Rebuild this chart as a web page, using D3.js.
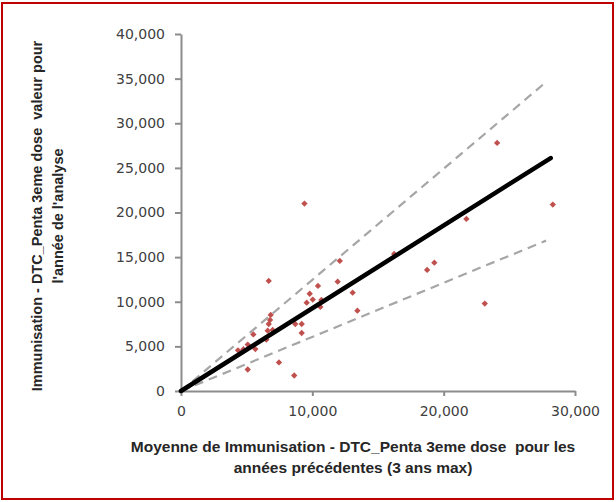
<!DOCTYPE html>
<html>
<head>
<meta charset="utf-8">
<script src="https://cdn.jsdelivr.net/npm/d3@7"></script>
<style>
  body { margin: 0; background: #fff; }
  svg { display: block; }
  .tick text { font-family: "DejaVu Sans", sans-serif; font-size: 14px; fill: #404040; }
  .axis path, .axis line { stroke: #8c8c8c; stroke-width: 2; }
  .title { font-family: "Liberation Sans", Arial, sans-serif; font-weight: bold; fill: #262626; white-space: pre; }
</style>
</head>
<body>
<svg width="616" height="502"></svg>
<script>
// moyenne des années précédentes (x) / valeur de l'année de l'analyse (y)
const avgPrev = [9400, 6680, 24070, 28310, 21730, 19290, 18740, 23130, 16230, 12090,
  11930, 10430, 13070, 13430, 9800, 10030, 9570, 10690, 10610, 8700,
  9190, 9190, 6830, 6780, 6680, 6600, 6980, 6500, 5510, 5080,
  5660, 4340, 4750, 7460, 5080, 8620];
const yearValue = [21000, 12330, 27800, 20890, 19280, 14380, 13570, 9790, 15360, 14570,
  12250, 11770, 11020, 9000, 10900, 10240, 9900, 10200, 9420, 7510,
  7510, 6500, 8520, 7960, 7510, 6760, 6840, 5750, 6340, 5200,
  4700, 4560, 4680, 3200, 2410, 1740];

// droites : tendance et bornes
const trendLine = [[0, 0], [28150, 26100]];
const upperBand = [[0, 0], [27700, 34500]];
const lowerBand = [[0, 0], [27800, 16850]];

const xTicks = [0, 10000, 20000, 30000];
const yTicks = [0, 5000, 10000, 15000, 20000, 25000, 30000, 35000, 40000];

const xTitle = ["Moyenne de Immunisation - DTC_Penta 3eme dose  pour les", "années précédentes (3 ans max)"];
const yTitle = ["Immunisation - DTC_Penta 3eme dose  valeur pour", "l'année de l'analyse"];

const svg = d3.select("svg");

// cadre rouge
svg.append("rect")
  .attr("x", 2).attr("y", 3).attr("width", 611).attr("height", 496)
  .attr("fill", "none").attr("stroke", "#c00000").attr("stroke-width", 2);

const x = d3.scaleLinear().domain([0, 30000]).range([181, 575]);
const y = d3.scaleLinear().domain([0, 40000]).range([391, 34]);

const fmt = d3.format(",");

svg.append("g")
  .attr("class", "axis")
  .attr("transform", "translate(0,391)")
  .call(d3.axisBottom(x).tickValues(xTicks).tickSize(5).tickSizeOuter(0).tickPadding(10).tickFormat(fmt));

svg.append("g")
  .attr("class", "axis")
  .attr("transform", "translate(181,0)")
  .call(d3.axisLeft(y).tickValues(yTicks).tickSize(6).tickSizeOuter(0).tickPadding(10).tickFormat(fmt));

// points
const diamond = d3.symbol().type(d3.symbolSquare).size(20);
svg.append("g")
  .selectAll("path")
  .data(avgPrev.map((v, i) => [v, yearValue[i]]))
  .enter()
  .append("path")
  .attr("d", diamond)
  .attr("transform", d => `translate(${x(d[0])},${y(d[1])}) rotate(45)`)
  .attr("fill", "#c0504d");

const line = d3.line().x(d => x(d[0])).y(d => y(d[1]));

[upperBand, lowerBand].forEach(b => {
  svg.append("path")
    .datum(b)
    .attr("d", line)
    .attr("fill", "none")
    .attr("stroke", "#a6a6a6")
    .attr("stroke-width", 2.2)
    .attr("stroke-dasharray", "9,6");
});

svg.append("path")
  .datum(trendLine)
  .attr("d", line)
  .attr("fill", "none")
  .attr("stroke", "#000")
  .attr("stroke-width", 4.5)
  .attr("stroke-linecap", "round");

// titres
const xt = svg.append("text").attr("class", "title").attr("text-anchor", "middle").style("font-size", "15.5px");
xTitle.forEach((t, i) => xt.append("tspan").attr("x", 353).attr("y", 452 + i * 21).text(t));

const yt = svg.append("text").attr("class", "title").attr("text-anchor", "middle").style("font-size", "14.5px")
  .attr("transform", "translate(0,216) rotate(-90)");
yTitle.forEach((t, i) => yt.append("tspan").attr("x", 0).attr("y", 42 + i * 21).text(t));
</script>
</body>
</html>
